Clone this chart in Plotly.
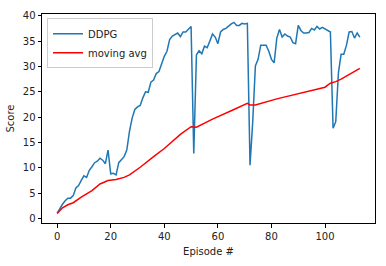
import plotly.graph_objects as go

episodes = list(range(114))
ddpg_scores = [
    1.0, 2.0, 2.8, 3.5, 4.0, 4.0, 4.5, 6.0, 6.5, 7.5,
    8.4, 8.1, 9.5, 10.2, 11.0, 11.3, 11.9, 11.5, 10.8, 13.5,
    8.8, 8.9, 8.6, 11.0, 11.6, 12.2, 13.5, 17.2, 19.8, 21.5,
    22.0, 22.3, 23.8, 25.0, 24.9, 26.9, 27.3, 28.6, 29.0, 30.7,
    32.0, 33.0, 35.3, 36.0, 36.3, 36.6, 35.9, 36.8, 36.8, 37.4,
    37.9, 12.8, 32.3, 33.1, 32.5, 34.0, 33.7, 35.0, 36.4, 35.8,
    34.5, 36.8, 37.3, 37.5, 38.0, 38.4, 38.7, 38.1, 38.1, 38.5,
    38.4, 38.5, 10.5, 19.0, 30.1, 31.4, 34.2, 34.2, 34.2, 33.0,
    31.4, 30.7, 35.6, 37.3, 35.8, 36.4, 36.0, 35.8, 34.7, 34.5,
    38.1, 37.1, 36.6, 36.6, 36.7, 37.5, 37.2, 37.9, 37.4, 37.7,
    37.4, 37.0, 36.8, 17.8, 19.1, 28.8, 32.4, 32.4, 34.2, 36.8,
    36.9, 35.6, 36.6, 35.8,
]

avg_episodes = [0, 2, 4, 6, 9, 13, 16, 19, 22, 25, 27, 31, 36, 40, 46, 50, 52,
                58, 66, 71, 72, 74, 82, 90, 99, 100, 101, 102, 104, 106, 113]
avg_scores = [1.0, 2.1, 2.7, 3.1, 4.2, 5.5, 6.8, 7.5, 7.7, 8.1, 8.6, 10.1, 12.2,
              13.8, 16.6, 18.1, 18.0, 19.6, 21.5, 22.7, 22.4, 22.4, 23.6, 24.6,
              25.7, 25.9, 26.3, 26.7, 27.0, 27.5, 29.6]

x_ticks = [0, 20, 40, 60, 80, 100]
y_ticks = [0, 5, 10, 15, 20, 25, 30, 35, 40]

fig = go.Figure()
fig.add_trace(go.Scatter(x=episodes, y=ddpg_scores, mode="lines", name="DDPG",
                         line=dict(color="#1f77b4", width=1.5)))
fig.add_trace(go.Scatter(x=avg_episodes, y=avg_scores, mode="lines", name="moving avg",
                         line=dict(color="#ff0000", width=1.5)))

axis_common = dict(showline=True, linecolor="black", linewidth=1, mirror=True,
                   ticks="outside", ticklen=3.5, tickcolor="black", showgrid=False,
                   zeroline=False, tickfont=dict(size=10, color="#222"))

fig.update_layout(
    width=386, height=266,
    margin=dict(l=41, r=10, t=11, b=38),
    paper_bgcolor="white", plot_bgcolor="white",
    font=dict(family="DejaVu Sans", size=10, color="#222"),
    showlegend=True,
    legend=dict(x=0.015, y=0.98, xanchor="left", yanchor="top",
                bgcolor="rgba(255,255,255,0.8)", bordercolor="#cccccc", borderwidth=1,
                font=dict(size=10), itemwidth=30, tracegroupgap=0),
    xaxis=dict(range=[-5.65, 118.65], tickvals=x_ticks,
               title=dict(text="Episode #", font=dict(size=10), standoff=7), **axis_common),
    yaxis=dict(range=[-0.9, 40.35], tickvals=y_ticks,
               title=dict(text="Score", font=dict(size=10), standoff=6), **axis_common),
)

fig.write_html("out.html")
